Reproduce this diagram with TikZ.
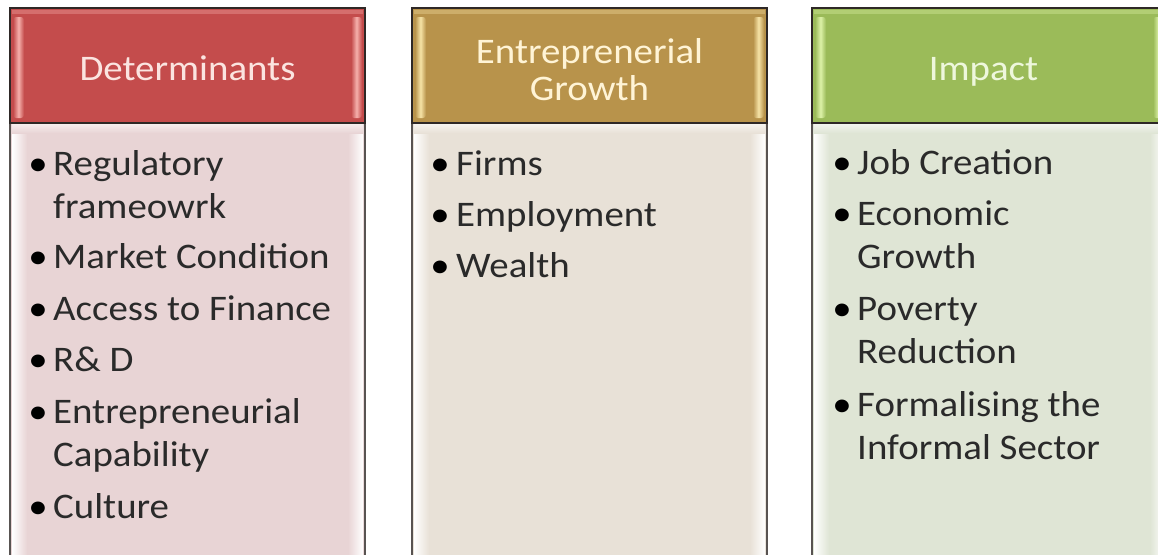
\documentclass[tikz,border=0pt]{standalone}
\usepackage{fontspec}
\setmainfont{Carlito}[FakeStretch=1.08]
\definecolor{redhead}{HTML}{C44C4C}
\definecolor{redglow}{HTML}{F6B0AC}
\definecolor{redtext}{HTML}{FBE4E0}
\definecolor{redbody}{HTML}{E8D4D5}
\definecolor{goldhead}{HTML}{B8934B}
\definecolor{goldglow}{HTML}{F6E3A6}
\definecolor{goldtext}{HTML}{FFF4D6}
\definecolor{goldbody}{HTML}{E8E1D7}
\definecolor{greenhead}{HTML}{9BBB59}
\definecolor{greenglow}{HTML}{DDF2A8}
\definecolor{greentext}{HTML}{EEF7DC}
\definecolor{greenbody}{HTML}{DFE5D5}
\definecolor{framecol}{HTML}{2E2826}
\definecolor{itemtext}{HTML}{2A2A2A}

% one column: #1 left x, #2 header fill, #3 header glow, #4 body fill
\newcommand\drawcolumn[4]{%
  % body panel with soft inner bevel
  \fill[#4] (#1,123) rectangle (#1+355,570);
  \shade[left color=white, right color=#4] (#1+2,126) rectangle (#1+17,570);
  \shade[left color=#4, right color=white] (#1+338,126) rectangle (#1+353,570);
  \shade[top color=white!60!#4, bottom color=#4] (#1+2,124) rectangle (#1+353,133);
  \draw[bodyframe] (#1,123) -- (#1,570);
  \draw[bodyframe] (#1+355,123) -- (#1+355,570);
  % header band with bevelled edges
  \fill[#2] (#1,8) rectangle (#1+355,123);
  \fill[#3, opacity=.35] (#1+2,10) rectangle (#1+353,14);
  \shade[left color=#2, right color=#2, middle color=#3, rounded corners=3pt]
    (#1+3,17) rectangle (#1+14,118);
  \shade[left color=#2, right color=#2, middle color=#3, rounded corners=3pt]
    (#1+341,17) rectangle (#1+352,118);
  \draw[headframe] (#1,123) -- (#1,8) -- (#1+355,8) -- (#1+355,123) -- cycle;
}

\begin{document}
\begin{tikzpicture}[x=1pt, y=-1pt,
  headframe/.style={draw=framecol, line width=1.8pt},
  bodyframe/.style={draw=framecol!80, line width=1.8pt},
  headlabel/.style={font=\fontsize{36}{37}\selectfont, inner sep=0pt, anchor=base},
  itemlabel/.style={font=\fontsize{36}{43}\selectfont, text=itemtext, inner sep=0pt, anchor=base west},
  bulletmark/.style={font=\fontsize{36}{43}\selectfont, text=black, inner sep=0pt, anchor=base},
]
\useasboundingbox (0,0) rectangle (1158,554);
\fill[white] (0,0) rectangle (1158,554);

\begin{scope}
\clip (0,0) rectangle (1158,554);
\drawcolumn{10}{redhead}{redglow}{redbody}
\drawcolumn{412}{goldhead}{goldglow}{goldbody}
\drawcolumn{812}{greenhead}{greenglow}{greenbody}
\end{scope}

% headers
\node[headlabel, text=redtext] (hdet) at (187.5,80) {Determinants};
\node[headlabel, text=goldtext] (hgrow) at (589.5,63)
  {\parbox[t]{320pt}{\centering Entreprenerial\\Growth}};
\node[headlabel, text=greentext] (himp) at (983.5,80) {Impact};

% determinants
\foreach \y/\txt [count=\i] in {175/{Regulatory\\frameowrk}, 268/{Market Condition},
    320/{Access to Finance}, 371/{R\& D}, 423/{Entrepreneurial\\Capability}, 518/{Culture}} {
  \node[bulletmark] (db\i) at (38,\y) {•};
  \node[itemlabel] (d\i) at (53,\y) {\parbox[t]{300pt}{\raggedright\txt}};
}

% entrepreneurial growth
\foreach \y/\txt [count=\i] in {175/{Firms}, 226/{Employment}, 277/{Wealth}} {
  \node[bulletmark] (gb\i) at (440,\y) {•};
  \node[itemlabel] (g\i) at (456,\y) {\parbox[t]{300pt}{\raggedright\txt}};
}

% impact
\foreach \y/\txt [count=\i] in {174/{Job Creation}, 225/{Economic\\Growth},
    320/{Poverty\\Reduction}, 416/{Formalising the\\Informal Sector}} {
  \node[bulletmark] (ib\i) at (842,\y) {•};
  \node[itemlabel] (i\i) at (857,\y) {\parbox[t]{300pt}{\raggedright\txt}};
}
\end{tikzpicture}
\end{document}
